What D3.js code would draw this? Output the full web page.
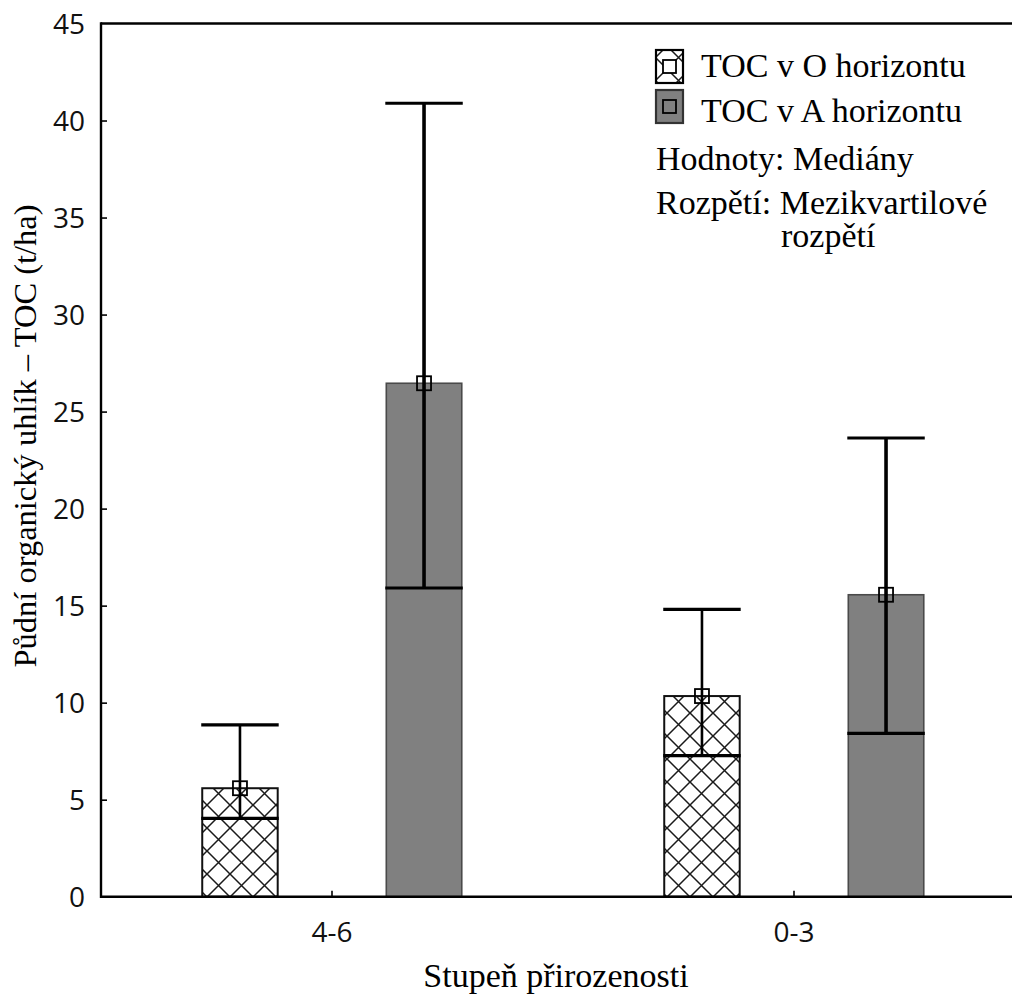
<!DOCTYPE html>
<html>
<head>
<meta charset="utf-8">
<script src="https://cdn.jsdelivr.net/npm/d3@7"></script>
<style>
  html, body { margin: 0; padding: 0; background: #fff; }
  svg { display: block; }
</style>
</head>
<body>
<svg id="chart" width="1012" height="994"></svg>
<script>
// ---- data ----
const categories = ["4-6", "0-3"];
const seriesKeys = ["O", "A"];
const seriesNames = ["TOC v O horizontu", "TOC v A horizontu"];
const medianO = [5.59, 10.34];
const medianA = [26.46, 15.56];
const q1O = [4.04, 7.27];
const q1A = [15.91, 8.42];
const q3O = [8.85, 14.81];
const q3A = [40.89, 23.64];
const yTicks = [0, 5, 10, 15, 20, 25, 30, 35, 40, 45];
const yTitle = "Půdní organický uhlík – TOC (t/ha)";
const xTitle = "Stupeň přirozenosti";
const noteLines = ["Hodnoty: Mediány", "Rozpětí: Mezikvartilové", "rozpětí"];

const rows = [];
categories.forEach((c, i) => {
  rows.push({cat: c, key: "O", med: medianO[i], q1: q1O[i], q3: q3O[i]});
  rows.push({cat: c, key: "A", med: medianA[i], q1: q1A[i], q3: q3A[i]});
});

// ---- layout ----
const svg = d3.select("#chart");
const pLeft = 101, pRight = 1025, pTop = 23.5, pBottom = 896.7;
const serif = "'Liberation Serif', 'Times New Roman', serif";
const sans = "'Open Sans', 'Liberation Sans', sans-serif";

const x0 = d3.scaleBand().domain(categories).range([pLeft, pRight]).padding(0);
const x1 = d3.scaleBand().domain(seriesKeys).range([0, x0.bandwidth()])
  .paddingInner(0.59).paddingOuter(0.55);
const y = d3.scaleLinear().domain([0, 45]).range([pBottom, pTop]);

// hatch pattern
const defs = svg.append("defs");
const pat = defs.append("pattern").attr("id", "hatch")
  .attr("patternUnits", "userSpaceOnUse").attr("width", 23).attr("height", 23);
pat.append("rect").attr("width", 23).attr("height", 23).attr("fill", "#fff");
pat.append("path").attr("d", "M-2,-2 L25,25 M-2,25 L25,-2")
  .attr("stroke", "#1a1a1a").attr("stroke-width", 1.5).attr("fill", "none");

const fillOf = k => k === "O" ? "url(#hatch)" : "#808080";
const strokeOf = k => k === "O" ? "#111" : "#4a4a4a";

// bars
const g = svg.append("g");
const bars = g.selectAll("g.bar").data(rows).join("g").attr("class", "bar");
bars.append("rect")
  .attr("x", d => x0(d.cat) + x1(d.key))
  .attr("y", d => y(d.med))
  .attr("width", x1.bandwidth())
  .attr("height", d => y(0) - y(d.med))
  .attr("fill", d => fillOf(d.key))
  .attr("stroke", d => strokeOf(d.key))
  .attr("stroke-width", d => d.key === "O" ? 2 : 1.6);

// whiskers (interquartile range)
bars.append("line")
  .attr("x1", d => x0(d.cat) + x1(d.key) + x1.bandwidth() / 2)
  .attr("x2", d => x0(d.cat) + x1(d.key) + x1.bandwidth() / 2)
  .attr("y1", d => y(d.q1)).attr("y2", d => y(d.q3))
  .attr("stroke", "#000").attr("stroke-width", d => d.key === "O" ? 2.6 : 3.6);
["q1", "q3"].forEach(q => {
  bars.append("line")
    .attr("x1", d => x0(d.cat) + x1(d.key) - 1)
    .attr("x2", d => x0(d.cat) + x1(d.key) + x1.bandwidth() + 1)
    .attr("y1", d => y(d[q])).attr("y2", d => y(d[q]))
    .attr("stroke", "#000").attr("stroke-width", 3.2);
});
// median marker
bars.append("rect")
  .attr("x", d => x0(d.cat) + x1(d.key) + x1.bandwidth() / 2 - 7)
  .attr("y", d => y(d.med) - 7)
  .attr("width", 14).attr("height", 14)
  .attr("fill", "none").attr("stroke", "#000").attr("stroke-width", 1.8);

// axes
const yAxis = d3.axisLeft(y).tickValues(yTicks).tickSize(-6);
const ya = svg.append("g").attr("transform", `translate(${pLeft},0)`).call(yAxis);
ya.select(".domain").remove();
ya.selectAll(".tick line").attr("stroke", "#000").attr("stroke-width", 1.6)
  .attr("opacity", d => (d === 0 || d === 45) ? 0 : 1);
ya.selectAll(".tick text").attr("x", -16).attr("font-family", sans)
  .attr("font-size", 28).attr("fill", "#111").attr("dy", "0.35em");

const xAxis = d3.axisBottom(x0).tickSize(-6);
const xa = svg.append("g").attr("transform", `translate(0,${pBottom})`).call(xAxis);
xa.select(".domain").remove();
xa.selectAll(".tick line").attr("stroke", "#000").attr("stroke-width", 1.6);
xa.selectAll(".tick text").attr("y", 36).attr("dy", "0.35em").attr("font-family", sans)
  .attr("font-size", 28).attr("fill", "#111");

// frame lines: left, bottom, top
svg.append("line").attr("x1", pLeft).attr("x2", pLeft).attr("y1", pTop - 1.2).attr("y2", pBottom + 1.2)
  .attr("stroke", "#000").attr("stroke-width", 2.4);
svg.append("line").attr("x1", pLeft).attr("x2", 1012).attr("y1", pBottom).attr("y2", pBottom)
  .attr("stroke", "#000").attr("stroke-width", 2.4);
svg.append("line").attr("x1", pLeft).attr("x2", 1012).attr("y1", pTop).attr("y2", pTop)
  .attr("stroke", "#000").attr("stroke-width", 2.4);

// axis titles
svg.append("text").attr("transform", "translate(36,436) rotate(-90)")
  .attr("text-anchor", "middle").attr("font-family", serif).attr("font-size", 32.5)
  .attr("fill", "#000").text(yTitle);
svg.append("text").attr("x", 556).attr("y", 987)
  .attr("text-anchor", "middle").attr("font-family", serif).attr("font-size", 34)
  .attr("fill", "#000").text(xTitle);

// legend
const lg = svg.append("g");
seriesKeys.forEach((k, i) => {
  const bx = 656, by = 50 + i * 40;
  lg.append("rect").attr("x", bx).attr("y", by).attr("width", 27).attr("height", 33)
    .attr("fill", fillOf(k)).attr("stroke", k === "O" ? "#000" : "#333").attr("stroke-width", 2.2);
  lg.append("rect").attr("x", bx + 13.5 - 6.5).attr("y", by + 16.5 - 6.5).attr("width", 13).attr("height", 13)
    .attr("fill", k === "O" ? "#fff" : "none").attr("stroke", "#000").attr("stroke-width", 1.8);
  lg.append("text").attr("x", 701).attr("y", 77 + i * 45).attr("font-family", serif)
    .attr("font-size", 34).attr("fill", "#000").text(seriesNames[i]);
});
lg.append("text").attr("x", 656).attr("y", 170).attr("font-family", serif)
  .attr("font-size", 34).attr("fill", "#000").text(noteLines[0]);
lg.append("text").attr("x", 656).attr("y", 214).attr("font-family", serif)
  .attr("font-size", 34).attr("fill", "#000").text(noteLines[1]);
lg.append("text").attr("x", 781).attr("y", 247).attr("font-family", serif)
  .attr("font-size", 34).attr("fill", "#000").text(noteLines[2]);
</script>
</body>
</html>
